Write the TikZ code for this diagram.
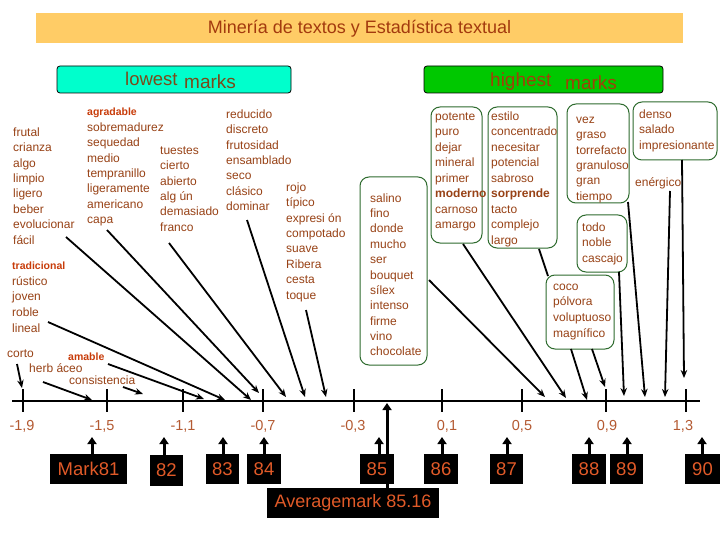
\documentclass[tikz,border=0pt]{standalone}
\usepackage{fontspec}
\setmainfont{Liberation Sans}
\usetikzlibrary{arrows.meta}
\definecolor{wordc}{HTML}{984216}
\definecolor{hotc}{HTML}{C83C0A}
\definecolor{axc}{HTML}{B45A32}
\definecolor{markc}{HTML}{E15A28}
\definecolor{titlebg}{HTML}{FFCC66}
\definecolor{titlec}{HTML}{A33A0E}
\definecolor{lowc}{HTML}{00FFCC}
\definecolor{lowtxt}{HTML}{7A4A1A}
\definecolor{hic}{HTML}{00C800}
\definecolor{hitxt}{HTML}{A0400A}
\definecolor{boxc}{HTML}{2E6B2E}
\begin{document}
\begin{tikzpicture}[x=1pt,y=-1pt,
  wrd/.style={anchor=west,inner sep=0pt,text=wordc,font=\fontsize{12}{14}\selectfont,text height=9pt,text depth=2.5pt},
  bwrd/.style={wrd,font=\fontsize{12}{14}\selectfont\bfseries},
  hotword/.style={wrd,text=hotc,font=\fontsize{10.5}{12}\selectfont\bfseries,text height=7.5pt,text depth=1.5pt},
  gbox/.style={draw=boxc,line width=1pt,rounded corners=9pt,fill=white,inner sep=0pt},
  connarr/.style={line width=1.8pt,-{Stealth[length=8pt,width=6.5pt]}},
  plainline/.style={line width=1.8pt},
  uparr/.style={line width=3pt,-{Triangle[length=7pt,width=9pt]}},
  markbox/.style={fill=black,text=markc,font=\fontsize{18.5}{20}\selectfont,inner sep=0pt,minimum height=30pt},
  ticklab/.style={text=axc,font=\fontsize{14.5}{16}\selectfont,inner sep=0pt},
  headbox/.style={draw=black,line width=0.8pt,rounded corners=3pt,inner sep=0pt,minimum width=#1,minimum height=27pt}
]
\useasboundingbox (0,0) rectangle (720,540);
\fill[white] (0,0) rectangle (720,540);

% title
\node[fill=titlebg,minimum width=647pt,minimum height=30pt,inner sep=0pt,text=titlec,font=\fontsize{18}{20}\selectfont] (title) at (359.5,28.5) {Minería de textos y Estadística textual};

% headers
\node[headbox=234pt,fill=lowc] (lowbox) at (174,79.5) {};
\node[anchor=base west,inner sep=0pt,text=lowtxt,font=\fontsize{18.5}{20}\selectfont] (lowA) at (125,86) {lowest};
\node[anchor=base west,inner sep=0pt,text=lowtxt,font=\fontsize{19}{20}\selectfont] (lowB) at (184,89) {marks};
\node[headbox=239pt,fill=hic] (hibox) at (543.5,79.5) {};
\node[anchor=base west,inner sep=0pt,text=hitxt,font=\fontsize{19}{20}\selectfont] (hiA) at (490,87) {highest};
\node[anchor=base west,inner sep=0pt,text=hitxt,font=\fontsize{19}{20}\selectfont] (hiB) at (565,90) {marks};

% green boxes
\node[gbox,minimum width=67pt,minimum height=188pt] (salbox) at (393.5,271) {};
\node[gbox,minimum width=51pt,minimum height=136pt] (potbox) at (456.5,175) {};
\node[gbox,minimum width=69pt,minimum height=141pt] (estbox) at (522.5,177.5) {};
\node[gbox,minimum width=62pt,minimum height=99pt] (vezbox) at (598,153.5) {};
\node[gbox,minimum width=84pt,minimum height=58pt] (denbox) at (675,131) {};
\node[gbox,minimum width=50pt,minimum height=57pt] (todobox) at (602,243.5) {};
\node[gbox,minimum width=68pt,minimum height=74pt] (cocobox) at (580,312) {};

% word columns
\foreach \w [count=\i from 0] in {frutal,crianza,algo,limpio,ligero,beber,evolucionar,fácil}
  \node[wrd] (ca-\i) at (13,{133+15.4*\i}) {\w};
\node[hotword] (agr) at (87,113) {agradable};
\foreach \w [count=\i from 0] in {sobremadurez,sequedad,medio,tempranillo,ligeramente,americano,capa}
  \node[wrd] (cb-\i) at (87,{128+15.4*\i}) {\w};
\foreach \w [count=\i from 0] in {tuestes,cierto,abierto,alg ún,demasiado,franco}
  \node[wrd] (cc-\i) at (160,{151+15.4*\i}) {\w};
\foreach \w [count=\i from 0] in {reducido,discreto,frutosidad,ensamblado,seco,clásico,dominar}
  \node[wrd] (cd-\i) at (226,{115+15.4*\i}) {\w};
\foreach \w [count=\i from 0] in {rojo,típico,expresi ón,compotado,suave,Ribera,cesta,toque}
  \node[wrd] (ce-\i) at (286,{188+15.4*\i}) {\w};
\foreach \w [count=\i from 0] in {salino,fino,donde,mucho,ser,bouquet,sílex,intenso,firme,vino,chocolate}
  \node[wrd] (cs-\i) at (370,{199+15.35*\i}) {\w};
\foreach \w/\k in {potente/0,puro/1,dejar/2,mineral/3,primer/4,carnoso/6,amargo/7}
  \node[wrd] (cp-\k) at (435,{117+15.5*\k}) {\w};
\node[bwrd] (cp-5) at (435,{117+15.5*5}) {moderno};
\foreach \w/\k in {estilo/0,concentrado/1,necesitar/2,potencial/3,sabroso/4,tacto/6,complejo/7,largo/8}
  \node[wrd] (ct-\k) at (491,{117+15.5*\k}) {\w};
\node[bwrd] (ct-5) at (491,{117+15.5*5}) {sorprende};
\foreach \w [count=\i from 0] in {vez,graso,torrefacto,granuloso,gran,tiempo}
  \node[wrd] (cv-\i) at (576,{120+15.4*\i}) {\w};
\foreach \w [count=\i from 0] in {denso,salado,impresionante}
  \node[wrd] (cn-\i) at (639,{115+15.5*\i}) {\w};
\node[wrd] (ener) at (635,183) {enérgico};
\foreach \w [count=\i from 0] in {todo,noble,cascajo}
  \node[wrd] (co-\i) at (582,{228+15.5*\i}) {\w};
\foreach \w [count=\i from 0] in {coco,pólvora,voluptuoso,magnífico}
  \node[wrd] (cq-\i) at (553,{287+15.6*\i}) {\w};
\node[hotword] (trad) at (12,266) {tradicional};
\foreach \w [count=\i from 0] in {rústico,joven,roble,lineal}
  \node[wrd] (cr-\i) at (12,{282+15.6*\i}) {\w};
\node[wrd] (corto) at (7,354) {corto};
\node[wrd] (herb) at (29,369) {herb áceo};
\node[hotword] (amab) at (68,357.5) {amable};
\node[wrd] (cons) at (69,381.5) {consistencia};

% axis
\coordinate (axL) at (12,401);
\coordinate (axR) at (700,401);
\draw[line width=1.2pt] (axL) -- (axR);
\foreach \x/\lx/\l [count=\k] in {23/22/{-1,9},107/102/{-1,5},183/183/{-1,1},263/263/{-0,7},354/353/{-0,3},442/447/{0,1},522/522/{0,5},606/607/{0,9},686/683/{1,3}}{
  \coordinate (tk-\k) at (\x,389);
  \draw[line width=1.2pt] (tk-\k) -- ++(0,23);
  \node[ticklab] (tl-\k) at (\lx,426) {\l};
}

% connectors
\foreach \n/\sx/\sy/\ex/\ey in {corto/17/364/22/388, herb/43/382/92/400, cons/123/387/143/394, amab/108/364/204/399, lin/48/322/225/400, fac/66/237/251/400, capa/107/230/259/393, fran/169/243/286/397, dom/247/220/305/397, toq/306/310/326/397, bouq/429/280/545/397, amar/463/244/566/398, coc1/571/349/587/400, coc2/592/349/605/387, todo/619/272/624/396, vez/628/202/645/397, ener/670/191/665/397, dens/682/160/684/378}{
  \coordinate (s-\n) at (\sx,\sy);
  \coordinate (e-\n) at (\ex,\ey);
  \draw[connarr] (s-\n) -- (e-\n);
}
\coordinate (s-est) at (539,249);
\coordinate (e-est) at (548,276);
\draw[plainline] (s-est) -- (e-est);

% mark boxes
\node[markbox,minimum width=77pt] (m81) at (88.5,469) {Mark81};
\node[markbox,minimum width=33pt,minimum height=31pt] (m82) at (166.5,470.5) {82};
\node[markbox,minimum width=33pt] (m83) at (222.5,469) {83};
\node[markbox,minimum width=34pt] (m84) at (264,469) {84};
\node[markbox,minimum width=34pt] (m85) at (377,469) {85};
\node[markbox,minimum width=34pt] (m86) at (441,469) {86};
\node[markbox,minimum width=33pt] (m87) at (506.5,469) {87};
\node[markbox,minimum width=34pt] (m88) at (589,469) {88};
\node[markbox,minimum width=33pt] (m89) at (626.5,469) {89};
\node[markbox,minimum width=35pt] (m90) at (702.5,469) {90};
\node[markbox,minimum width=172pt,font=\fontsize{18}{20}\selectfont] (avg) at (353,503) {Averagemark 85.16};

\foreach \m/\x in {81/92,82/164,83/223,84/264,85/379,86/442,87/507,88/589,89/627,90/702}{
  \coordinate (u\m) at (\x,437);
  \draw[uparr] (u\m |- m\m.north) -- (u\m);
}
\coordinate (uavg) at (387,403);
\draw[uparr] (uavg |- avg.north) -- (uavg);
\end{tikzpicture}
\end{document}
